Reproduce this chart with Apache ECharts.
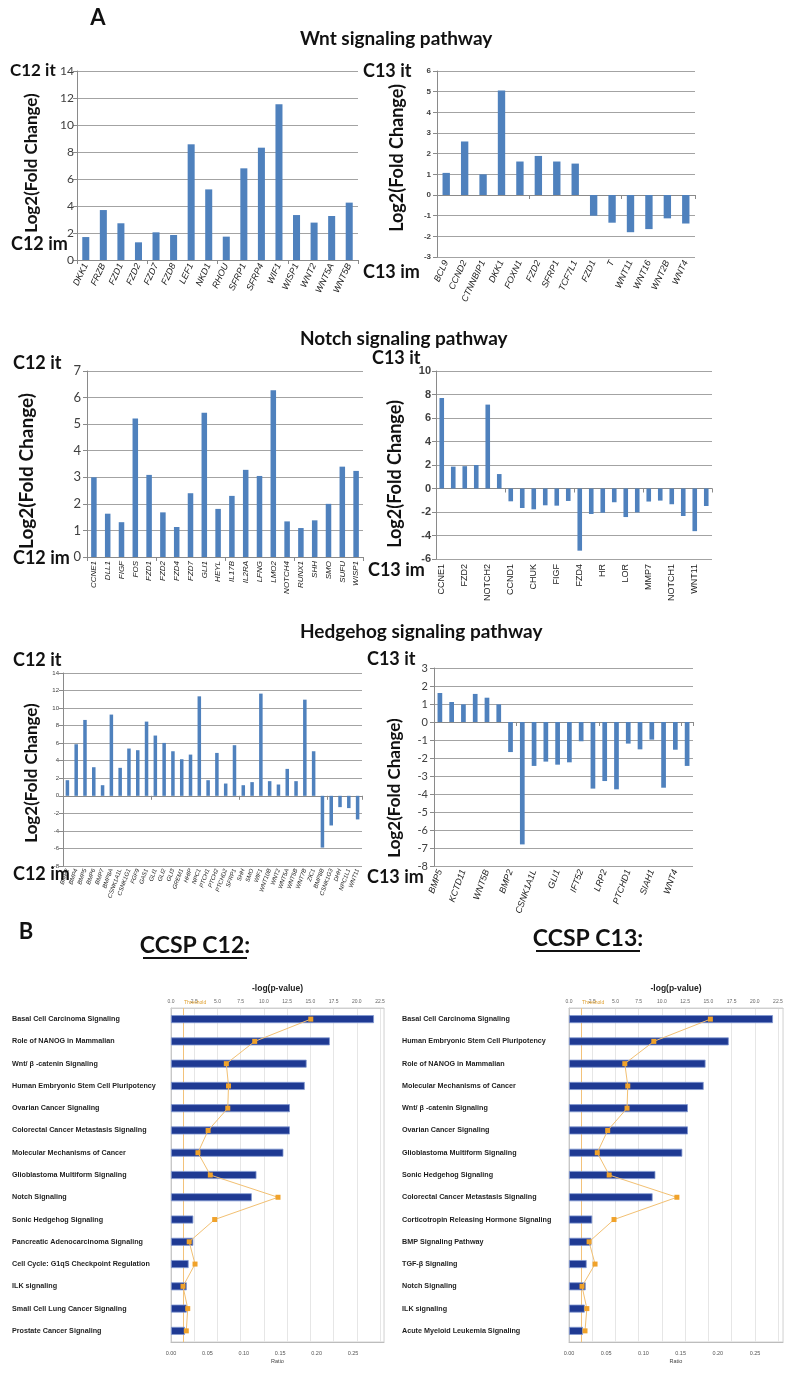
<!DOCTYPE html>
<html><head><meta charset="utf-8">
<script src="https://cdn.jsdelivr.net/npm/echarts@6/dist/echarts.min.js"></script>
<style>html,body{margin:0;padding:0;background:#fff}#c{width:792px;height:1376px}</style>
</head><body><div id="c"></div>
<script>
// ---------- DATA ----------
const wntC12Genes = ['DKK1','FRZB','FZD1','FZD2','FZD7','FZD8','LEF1','NKD1','RHOU','SFRP1','SFRP4','WIF1','WISP1','WNT2','WNT5A','WNT5B'];
const wntC12Values = [1.7,3.7,2.72,1.31,2.05,1.85,8.57,5.23,1.73,6.79,8.32,11.53,3.33,2.77,3.26,4.25];

const wntC13Genes = ['BCL9','CCND2','CTNNBIP1','DKK1','FOXN1','FZD2','SFRP1','TCF7L1','FZD1','T','WNT11','WNT16','WNT2B','WNT4'];
const wntC13Values = [1.07,2.59,1.0,5.06,1.62,1.89,1.62,1.52,-1.0,-1.34,-1.8,-1.65,-1.13,-1.38];

const notchC12Genes = ['CCNE1','DLL1','FIGF','FOS','FZD1','FZD2','FZD4','FZD7','GLI1','HEYL','IL17B','IL2RA','LFNG','LMO2','NOTCH4','RUNX1','SHH','SMO','SUFU','WISP1'];
const notchC12Values = [3.0,1.63,1.31,5.21,3.09,1.68,1.13,2.4,5.43,1.81,2.3,3.28,3.05,6.28,1.34,1.09,1.38,2.0,3.4,3.24];

// every second category is unlabeled in the reference
const notchC13Genes = ['CCNE1','','FZD2','','NOTCH2','','CCND1','','CHUK','','FIGF','','FZD4','','HR','','LOR','','MMP7','','NOTCH1','','WNT11',''];
const notchC13Values = [7.7,1.86,1.9,2.0,7.14,1.23,-1.09,-1.66,-1.77,-1.43,-1.46,-1.06,-5.29,-2.17,-2.06,-1.17,-2.43,-2.03,-1.11,-1.03,-1.34,-2.34,-3.63,-1.49];

const hhC12Genes = ['BMP2','BMP4','BMP5','BMP6','BMP7','BMP8A','CSNK1A1L','CSNK1G1','FGF9','GAS1','GLI1','GLI2','GLI3','GREM1','HHIP','NPC1','PTCH1','PTCH2','PTCHD2','SFRP1','SHH','SMO','WIF1','WNT10B','WNT2','WNT5A','WNT5B','WNT7B','ZIC1','BMP8B','CSNK1G3','DHH','NPC1L1','WNT11'];
const hhC12Values = [1.78,5.88,8.65,3.26,1.21,9.26,3.19,5.39,5.2,8.46,6.87,6.03,5.08,4.17,4.7,11.34,1.78,4.89,1.4,5.77,1.21,1.56,11.65,1.67,1.29,3.07,1.67,10.96,5.08,-5.9,-3.38,-1.29,-1.4,-2.69];

const hhC13Genes = ['BMP5','','KCTD11','','WNT5B','','BMP2','','CSNK1A1L','','GLI1','','IFT52','','LRP2','','PTCHD1','','SIAH1','','WNT4',''];
const hhC13Values = [1.61,1.11,0.98,1.56,1.35,0.98,-1.67,-6.8,-2.44,-2.2,-2.37,-2.24,-1.07,-3.7,-3.28,-3.74,-1.2,-1.52,-0.98,-3.65,-1.54,-2.44];

const c12Pathways = ['Basal Cell Carcinoma Signaling','Role of NANOG in Mammalian','Wnt/ β -catenin Signaling','Human Embryonic Stem Cell Pluripotency','Ovarian Cancer Signaling','Colorectal Cancer Metastasis Signaling','Molecular Mechanisms of Cancer','Glioblastoma Multiform Signaling','Notch Signaling','Sonic Hedgehog Signaling','Pancreatic Adenocarcinoma Signaling','Cell Cycle: G1qS Checkpoint Regulation','ILK signaling','Small Cell Lung Cancer Signaling','Prostate Cancer Signaling'];
const c12LogP = [21.85,17.1,14.6,14.4,12.8,12.8,12.1,9.2,8.7,2.4,2.4,1.9,1.7,1.7,1.5];
const c12Ratio = [0.192,0.115,0.076,0.079,0.078,0.051,0.037,0.054,0.147,0.060,0.025,0.033,0.0165,0.023,0.021];

const c13Pathways = ['Basal Cell Carcinoma Signaling','Human Embryonic Stem Cell Pluripotency','Role of NANOG in Mammalian','Molecular Mechanisms of Cancer','Wnt/ β -catenin Signaling','Ovarian Cancer Signaling','Glioblastoma Multiform Signaling','Sonic Hedgehog Signaling','Colorectal Cancer Metastasis Signaling','Corticotropin Releasing Hormone Signaling','BMP Signaling Pathway','TGF-β Signaling','Notch Signaling','ILK signaling','Acute Myeloid Leukemia Signaling'];
const c13LogP = [21.96,17.2,14.7,14.5,12.8,12.8,12.2,9.3,9.0,2.5,2.4,1.9,1.8,1.7,1.5];
const c13Ratio = [0.19,0.114,0.075,0.079,0.078,0.052,0.038,0.054,0.145,0.0605,0.027,0.035,0.0175,0.024,0.0215];

const thresholdLogP = 1.3;

// ---------- BUILD ----------
const chart = echarts.init(document.getElementById('c'), null, {renderer:'canvas', width:792, height:1376});
const AXIS_C = '#8a8a8a', GRIDL_C = '#a3a3a3', BAR_C = '#4f81bd';
const grids = [], xAxes = [], yAxes = [], series = [], graphics = [];

function addPanelA(genes, values, L) {
  const gi = grids.length;
  grids.push({left:L.left, top:L.top, width:L.right-L.left, height:L.bottom-L.top, containLabel:false, outerBoundsMode:'none'});
  const xLab = xAxes.length;
  xAxes.push({gridIndex:gi, type:'category', data:genes, position:'bottom',
    axisLine:{show:false, onZero:false}, axisTick:{show:false}, splitLine:{show:false},
    axisLabel:{interval:L.labInterval, rotate:L.labRotate, fontSize:L.labSize, fontStyle:L.labItalic?'italic':'normal',
      fontFamily:'Liberation Sans', color:'#222', margin:L.labMargin}});
  xAxes.push({gridIndex:gi, type:'category', data:genes, position:'bottom',
    axisLine:{show:true, onZero:true, lineStyle:{color:AXIS_C, width:1}},
    axisTick:{show:true, length:4, inside:false, lineStyle:{color:AXIS_C}},
    axisLabel:{show:false}, splitLine:{show:false}});
  const yi = yAxes.length;
  yAxes.push({gridIndex:gi, type:'value', min:L.min, max:L.max, interval:L.interval,
    axisLine:{show:true, lineStyle:{color:AXIS_C}},
    axisTick:{show:true, length:4, lineStyle:{color:AXIS_C}},
    splitLine:{show:true, lineStyle:{color:GRIDL_C, width:1}},
    axisLabel:{fontSize:L.tickSize, fontWeight:L.tickWeight, color:'#404040', fontFamily:L.tickFont, margin:L.tickMargin}});
  series.push({type:'bar', xAxisIndex:xLab, yAxisIndex:yi, data:values, barWidth:'40%', itemStyle:{color:BAR_C}, silent:true, animation:false});
}

function addPanelB(paths, logp, ratio, L) {
  const gi = grids.length;
  grids.push({left:L.left, top:L.top, width:L.width, height:L.height, show:true, borderColor:'#d2d2d2', borderWidth:1, containLabel:false, outerBoundsMode:'none'});
  const xTop = xAxes.length;
  const isMult = (v, s) => Math.abs(v/s - Math.round(v/s)) < 1e-6;
  xAxes.push({gridIndex:gi, type:'value', position:'top', min:0, max:L.topMax, interval:2.5,
    name:'-log(p-value)', nameLocation:'middle', nameGap:15,
    nameTextStyle:{fontSize:8.5, fontWeight:'bold', color:'#222', fontFamily:'Liberation Sans'},
    axisLine:{show:true, lineStyle:{color:'#cfcfcf'}}, axisTick:{show:false},
    splitLine:{show:true, lineStyle:{color:'#e6e6e6', width:1}},
    axisLabel:{fontSize:5, color:'#666', margin:4, fontFamily:'Liberation Sans', showMaxLabel:false,
      formatter:v => isMult(v,2.5) ? v.toFixed(1) : ''}});
  const xBot = xAxes.length;
  xAxes.push({gridIndex:gi, type:'value', position:'bottom', min:0, max:L.botMax, interval:0.05,
    name:'Ratio', nameLocation:'middle', nameGap:16,
    nameTextStyle:{fontSize:5.5, color:'#444', fontFamily:'Liberation Sans'},
    axisLine:{show:true, lineStyle:{color:'#bdbdbd'}}, axisTick:{show:false}, splitLine:{show:false},
    axisLabel:{fontSize:5.5, color:'#555', margin:8, fontFamily:'Liberation Sans', showMaxLabel:false,
      formatter:v => isMult(v,0.05) ? v.toFixed(2) : ''}});
  const yi = yAxes.length;
  yAxes.push({gridIndex:gi, type:'category', data:paths, inverse:true,
    axisLine:{show:true, lineStyle:{color:'#c8c8c8'}}, axisTick:{show:false}, splitLine:{show:false},
    axisLabel:{interval:0, align:'left', margin:L.labMargin, fontSize:7.2, fontWeight:'bold', color:'#1e1e1e', fontFamily:'Liberation Sans'}});
  series.push({type:'bar', xAxisIndex:xTop, yAxisIndex:yi, data:logp, barWidth:8, z:2,
    itemStyle:{color:'#1f3a93', borderColor:'#8298d0', borderWidth:0.8}, silent:true, animation:false});
  series.push({type:'line', xAxisIndex:xBot, yAxisIndex:yi, data:ratio, symbol:'rect', symbolSize:5,
    itemStyle:{color:'#f0a22a'}, lineStyle:{color:'#f2c072', width:1}, silent:true, animation:false, z:5});
  // threshold line (on the -log(p) axis), drawn as its own invisible scatter carrier
  series.push({type:'scatter', xAxisIndex:xTop, yAxisIndex:yi, data:[], silent:true, animation:false, z:1,
    markLine:{silent:true, symbol:'none', animation:false, label:{show:false}, z:1,
      lineStyle:{color:'#f3c27a', width:1, type:'solid', opacity:1}, data:[{xAxis:thresholdLogP}]}});
}

addPanelA(wntC12Genes, wntC12Values, {left:77,right:358,top:71,bottom:260,min:0,max:14,interval:2,
  tickSize:12,tickWeight:'normal',tickFont:'Lato',tickMargin:3,labInterval:0,labRotate:65,labSize:9,labItalic:true,labMargin:4});
addPanelA(wntC13Genes, wntC13Values, {left:437,right:695,top:71,bottom:257,min:-3,max:6,interval:1,
  tickSize:8,tickWeight:'bold',tickFont:'Liberation Sans',tickMargin:6,labInterval:0,labRotate:65,labSize:9,labItalic:true,labMargin:4});
addPanelA(notchC12Genes, notchC12Values, {left:87,right:363,top:371,bottom:557,min:0,max:7,interval:1,
  tickSize:13,tickWeight:'normal',tickFont:'Lato',tickMargin:6,labInterval:0,labRotate:90,labSize:8,labItalic:true,labMargin:4});
addPanelA(notchC13Genes, notchC13Values, {left:436,right:712,top:371,bottom:559,min:-6,max:10,interval:2,
  tickSize:11,tickWeight:'bold',tickFont:'Liberation Sans',tickMargin:5,labInterval:1,labRotate:90,labSize:9,labItalic:false,labMargin:5});
addPanelA(hhC12Genes, hhC12Values, {left:63,right:362,top:673,bottom:866,min:-8,max:14,interval:2,
  tickSize:6,tickWeight:'normal',tickFont:'Liberation Sans',tickMargin:4,labInterval:0,labRotate:70,labSize:6,labItalic:true,labMargin:3});
addPanelA(hhC13Genes, hhC13Values, {left:434,right:693,top:668,bottom:866,min:-8,max:3,interval:1,
  tickSize:11,tickWeight:'normal',tickFont:'Lato',tickMargin:6,labInterval:1,labRotate:70,labSize:9,labItalic:true,labMargin:4});

addPanelB(c12Pathways, c12LogP, c12Ratio, {left:171,width:213,top:1008,height:334,topMax:22.93,botMax:0.2926,labMargin:159});
addPanelB(c13Pathways, c13LogP, c13Ratio, {left:569,width:214,top:1008,height:334,topMax:23.04,botMax:0.2876,labMargin:167});

// ---------- TEXT ----------
function txt(x, y, text, size, opts) {
  opts = opts || {};
  graphics.push({type:'text', x:x, y:y, rotation:opts.rot || 0, silent:true, z:10,
    style:{text:text, fontSize:size, fontWeight:opts.weight || 'bold', fontFamily:opts.font || 'Lato',
      fill:opts.color || '#111', align:opts.align || 'left', verticalAlign:'middle'}});
}
txt(98, 18, 'A', 22, {align:'center'});
txt(300, 39, 'Wnt signaling pathway', 19);
txt(300, 339, 'Notch signaling pathway', 19);
txt(300, 632, 'Hedgehog signaling pathway', 19);

txt(10, 71, 'C12 it', 17); txt(11, 244, 'C12 im', 18);
txt(363, 71, 'C13 it', 18); txt(363, 272, 'C13 im', 18);
txt(13, 363, 'C12 it', 18); txt(13, 558, 'C12 im', 18);
txt(372, 358, 'C13 it', 18); txt(368, 570, 'C13 im', 18);
txt(13, 660, 'C12 it', 18); txt(13, 874, 'C12 im', 18);
txt(367, 659, 'C13 it', 18); txt(367, 877, 'C13 im', 18);

const yName = 'Log2(Fold Change)';
txt(32, 163, yName, 17, {align:'center', rot:Math.PI/2});
txt(397, 158, yName, 18, {align:'center', rot:Math.PI/2});
txt(27, 471, yName, 19, {align:'center', rot:Math.PI/2});
txt(395, 474, yName, 18, {align:'center', rot:Math.PI/2});
txt(32, 773, yName, 17, {align:'center', rot:Math.PI/2});
txt(395, 788, yName, 17, {align:'center', rot:Math.PI/2});

txt(26, 932, 'B', 22, {align:'center'});
txt(195, 946, 'CCSP C12:', 23, {align:'center'});
txt(588, 939, 'CCSP C13:', 23, {align:'center'});
graphics.push({type:'line', silent:true, shape:{x1:143, y1:958, x2:247, y2:958}, style:{stroke:'#111', lineWidth:2}});
graphics.push({type:'line', silent:true, shape:{x1:536, y1:951, x2:640, y2:951}, style:{stroke:'#111', lineWidth:2}});
txt(184, 1003, 'Threshold', 5, {weight:'normal', font:'Liberation Sans', color:'#e0a030'});
txt(582, 1003, 'Threshold', 5, {weight:'normal', font:'Liberation Sans', color:'#e0a030'});

chart.setOption({
  animation:false,
  backgroundColor:'#ffffff',
  grid:grids, xAxis:xAxes, yAxis:yAxes, series:series,
  graphic:{elements:graphics}
});
</script></body></html>
